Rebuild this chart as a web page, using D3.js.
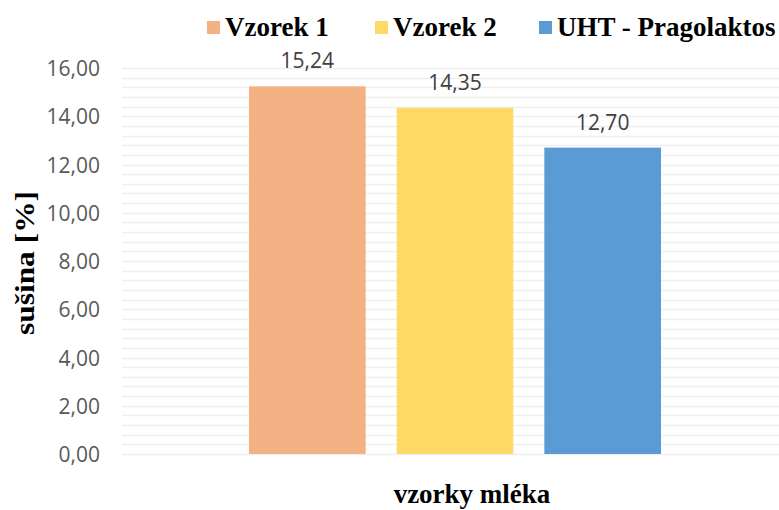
<!DOCTYPE html>
<html><head><meta charset="utf-8">
<script src="https://cdn.jsdelivr.net/npm/d3@7"></script>
<style>body{margin:0;background:#fff}svg{display:block}</style>
</head><body>
<script>
const series = ["Vzorek 1", "Vzorek 2", "UHT - Pragolaktos"];
const values = [15.24, 14.35, 12.70];
const colors = ["#F4B183", "#FFD966", "#5B9BD5"];
const yTicks = [0, 2, 4, 6, 8, 10, 12, 14, 16];
const gridStep = 0.4;

const W = 779, H = 510;
const svg = d3.select("body").append("svg").attr("width", W).attr("height", H);
const plot = {left: 122, right: 788, top: 68, bottom: 454};

const y = d3.scaleLinear().domain([0, 16]).range([plot.bottom, plot.top]);
const x = d3.scaleBand().domain(series).range([249, 661]).paddingInner(0.21).paddingOuter(0);

const fmt = v => d3.format(".2f")(v).replace(".", ",");

// gridlines
const grid = d3.range(0, 16 + 1e-9, gridStep);
svg.append("g").selectAll("line").data(grid).join("line")
  .attr("x1", plot.left).attr("x2", plot.right)
  .attr("y1", d => Math.round(y(d)) + 0.5).attr("y2", d => Math.round(y(d)) + 0.5)
  .attr("stroke", "#EFEFEF").attr("stroke-width", 1.5);

// y axis
const yAxis = d3.axisLeft(y).tickValues(yTicks).tickFormat(fmt).tickSize(0).tickPadding(0);
const ga = svg.append("g").attr("transform", `translate(100,0)`).call(yAxis);
ga.select(".domain").remove();
ga.selectAll("text").attr("font-family", "'Open Sans', sans-serif").attr("font-size", 21)
  .attr("fill", "#595959").attr("dy", "0.36em");

// bars
svg.append("g").selectAll("rect").data(series).join("rect")
  .attr("x", d => x(d)).attr("width", x.bandwidth())
  .attr("y", (d, i) => y(values[i])).attr("height", (d, i) => y(0) - y(values[i]))
  .attr("fill", (d, i) => colors[i]);

// value labels
svg.append("g").selectAll("text").data(series).join("text")
  .attr("x", d => x(d) + x.bandwidth() / 2)
  .attr("y", (d, i) => y(values[i]) - 18)
  .attr("text-anchor", "middle")
  .attr("font-family", "'Open Sans', sans-serif").attr("font-size", 21).attr("fill", "#404040")
  .text((d, i) => fmt(values[i]));

// axis titles
svg.append("text").attr("transform", "translate(34,263) rotate(-90)")
  .attr("text-anchor", "middle").attr("font-family", "'Liberation Serif', serif")
  .attr("font-weight", "bold").attr("font-size", 27).attr("fill", "#000")
  .attr("textLength", 144).attr("lengthAdjust", "spacingAndGlyphs").text("sušina [%]");
svg.append("text").attr("x", 472).attr("y", 503)
  .attr("text-anchor", "middle").attr("font-family", "'Liberation Serif', serif")
  .attr("font-weight", "bold").attr("font-size", 27).attr("fill", "#000").text("vzorky mléka");

// legend
const legX = [207, 375, 539];
const leg = svg.append("g").selectAll("g").data(series).join("g")
  .attr("transform", (d, i) => `translate(${legX[i]},0)`);
leg.append("rect").attr("x", 0).attr("y", 21).attr("width", 13).attr("height", 13)
  .attr("fill", (d, i) => colors[i]);
leg.append("text").attr("x", 18).attr("y", 36)
  .attr("font-family", "'Liberation Serif', serif").attr("font-weight", "bold")
  .attr("font-size", 27).attr("fill", "#000").text(d => d);
</script>
</body></html>
